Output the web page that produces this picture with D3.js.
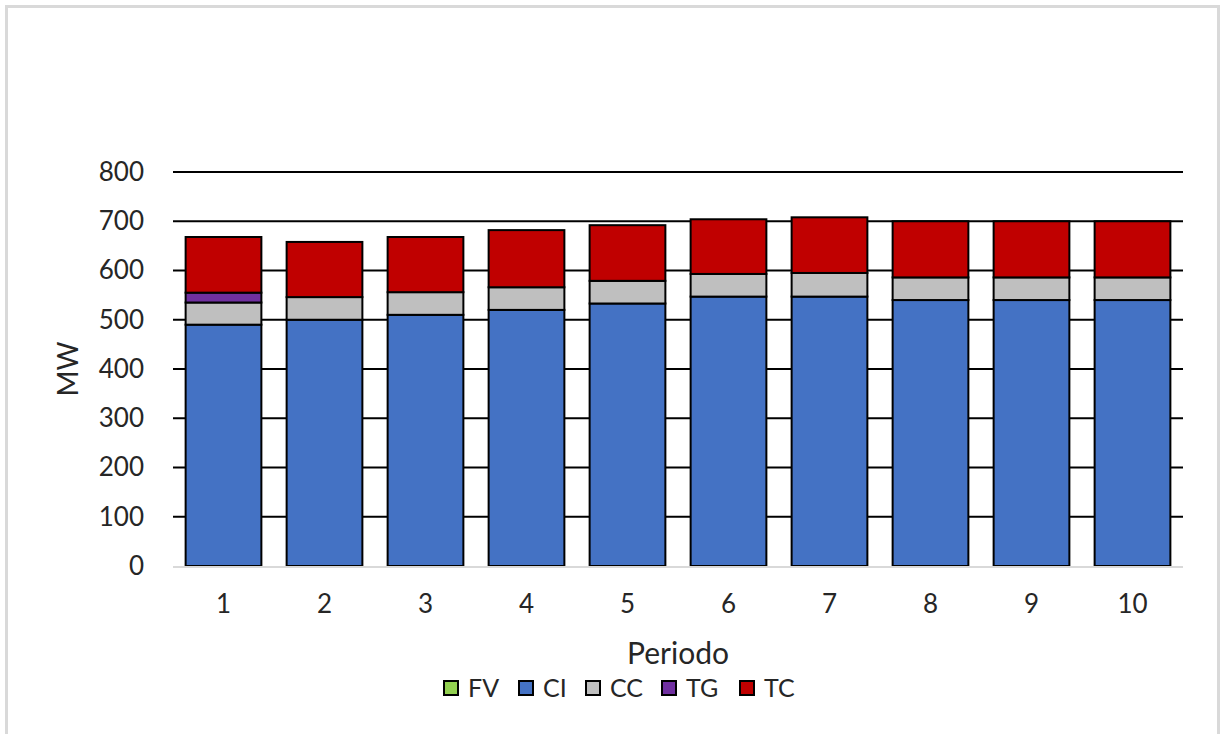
<!DOCTYPE html>
<html>
<head>
<meta charset="utf-8">
<script src="https://cdn.jsdelivr.net/npm/d3@7"></script>
<style>
  body { margin: 0; background: #fff; }
  text { font-family: Lato, "Open Sans", sans-serif; fill: #262626; }
</style>
</head>
<body>
<script>
// data
var periods = ["1", "2", "3", "4", "5", "6", "7", "8", "9", "10"];
var FV = [0, 0, 0, 0, 0, 0, 0, 0, 0, 0];
var CI = [490, 500, 510, 520, 533, 547, 547, 540, 540, 540];
var CC = [45, 46, 46, 46, 46, 46, 48, 46, 46, 46];
var TG = [20, 0, 0, 0, 0, 0, 0, 0, 0, 0];
var TC = [113, 112, 112, 116, 113, 111, 113, 114, 114, 114];
var yTicks = [0, 100, 200, 300, 400, 500, 600, 700, 800];

var seriesNames = ["FV", "CI", "CC", "TG", "TC"];
var seriesColors = ["#92d050", "#4472c4", "#bfbfbf", "#7030a0", "#c00000"];
var seriesData = [FV, CI, CC, TG, TC];

var width = 1220, height = 734;
var margin = {top: 172, right: 37, bottom: 168, left: 173};
var plotW = width - margin.left - margin.right;
var plotH = height - margin.top - margin.bottom;

var svg = d3.select("body").append("svg")
    .attr("width", width)
    .attr("height", height);

// outer frame
svg.append("rect")
    .attr("x", 6.5).attr("y", 6.5)
    .attr("width", 1212).attr("height", 740)
    .attr("fill", "none")
    .attr("stroke", "#d9d9d9")
    .attr("stroke-width", 3);

var x = d3.scaleBand().domain(periods)
    .range([margin.left, margin.left + plotW])
    .paddingInner(0.25).paddingOuter(0.125);
var y = d3.scaleLinear().domain([0, 800]).range([margin.top + plotH, margin.top]);

// gridlines
svg.append("g").selectAll("line")
    .data(yTicks.filter(function(d){ return d > 0; }))
    .enter().append("line")
    .attr("x1", margin.left).attr("x2", margin.left + plotW)
    .attr("y1", function(d){ return y(d); })
    .attr("y2", function(d){ return y(d); })
    .attr("stroke", "#000")
    .attr("stroke-width", 2);

// stacked bars
var rows = periods.map(function(p, i) {
    var r = {period: p};
    seriesNames.forEach(function(s, k){ r[s] = seriesData[k][i]; });
    return r;
});
var stack = d3.stack().keys(seriesNames)(rows);

svg.append("g").selectAll("g")
    .data(stack)
    .enter().append("g")
    .attr("fill", function(d, k){ return seriesColors[k]; })
    .selectAll("rect")
    .data(function(d){ return d.filter(function(v){ return v[1] - v[0] > 0; }); })
    .enter().append("rect")
    .attr("x", function(d){ return x(d.data.period); })
    .attr("width", x.bandwidth())
    .attr("y", function(d){ return y(d[1]); })
    .attr("height", function(d){ return y(d[0]) - y(d[1]); })
    .attr("stroke", "#000")
    .attr("stroke-width", 2);

// x baseline
svg.append("line")
    .attr("x1", margin.left).attr("x2", margin.left + plotW)
    .attr("y1", y(0) + 1).attr("y2", y(0) + 1)
    .attr("stroke", "#d9d9d9")
    .attr("stroke-width", 2);

// y axis labels
var yAxis = d3.axisLeft(y).tickValues(yTicks).tickSize(0).tickPadding(29);
var gy = svg.append("g").attr("transform", "translate(" + margin.left + ",0)").call(yAxis);
gy.select(".domain").remove();
gy.selectAll("text").style("font-size", "26px").attr("fill", "#262626");

// x axis labels
var xAxis = d3.axisBottom(x).tickSize(0).tickPadding(29);
var gx = svg.append("g").attr("transform", "translate(0," + y(0) + ")").call(xAxis);
gx.select(".domain").remove();
gx.selectAll("text").style("font-size", "26px").attr("fill", "#262626");

// axis titles
svg.append("text")
    .attr("transform", "translate(78," + (margin.top + plotH / 2) + ") rotate(-90)")
    .attr("text-anchor", "middle")
    .style("font-size", "28px")
    .text("MW");

svg.append("text")
    .attr("x", margin.left + plotW / 2)
    .attr("y", 664)
    .attr("text-anchor", "middle")
    .style("font-size", "30px")
    .text("Periodo");

// legend
var legendX = [444, 519, 586, 662, 740];
var legend = svg.append("g").selectAll("g")
    .data(seriesNames)
    .enter().append("g")
    .attr("transform", function(d, i){ return "translate(" + legendX[i] + ",681)"; });
legend.append("rect")
    .attr("width", 14).attr("height", 14)
    .attr("fill", function(d, i){ return seriesColors[i]; })
    .attr("stroke", "#000")
    .attr("stroke-width", 2);
legend.append("text")
    .attr("x", 24).attr("y", 16)
    .style("font-size", "25px")
    .text(function(d){ return d; });
</script>
</body>
</html>
